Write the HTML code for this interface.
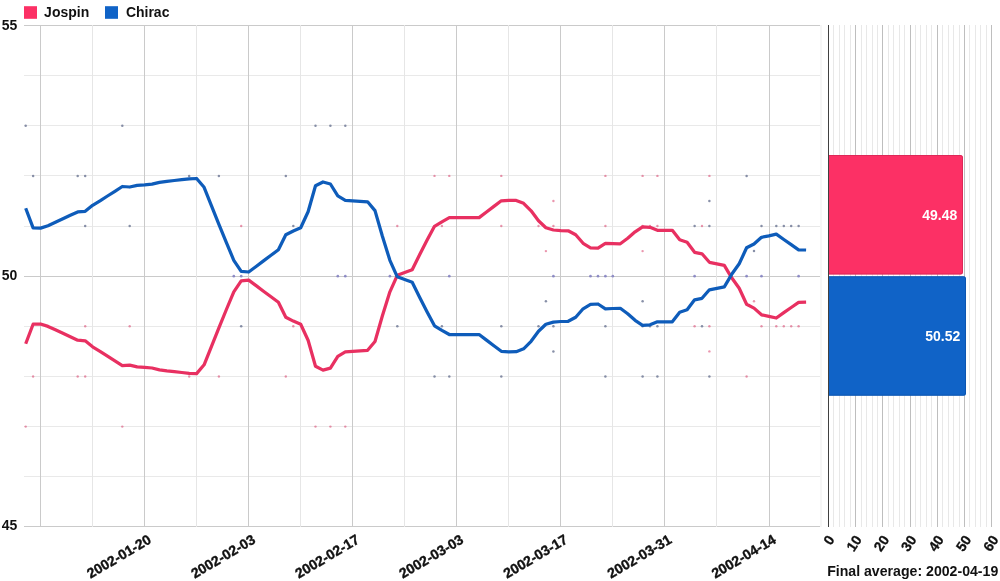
<!DOCTYPE html>
<html><head><meta charset="utf-8"><title>Jospin vs Chirac</title>
<style>
html,body{margin:0;padding:0;background:#fff;}
body{width:1000px;height:581px;overflow:hidden;font-family:"Liberation Sans",sans-serif;}
svg{display:block;will-change:transform;opacity:0.999;}
text{font-family:"Liberation Sans",sans-serif;font-weight:bold;fill:#111;}
</style></head><body>
<svg width="1000" height="581" viewBox="0 0 1000 581">
<rect width="1000" height="581" fill="#fff"/>

<rect x="24" y="6.2" width="13" height="12.6" fill="#fc3065"/>
<text transform="translate(44.1,16.9) scale(1,1.1)" font-size="14">Jospin</text>
<rect x="105" y="6.2" width="13" height="12.6" fill="#1063c7"/>
<text transform="translate(125.9,16.9) scale(1,1.1)" font-size="14">Chirac</text>
<g shape-rendering="crispEdges">
<line x1="24" x2="822" y1="25.5" y2="25.5" stroke="#cacaca" stroke-width="1"/>
<line x1="24" x2="822" y1="75.5" y2="75.5" stroke="#e9e9e9" stroke-width="1"/>
<line x1="24" x2="822" y1="125.5" y2="125.5" stroke="#e9e9e9" stroke-width="1"/>
<line x1="24" x2="822" y1="175.5" y2="175.5" stroke="#e9e9e9" stroke-width="1"/>
<line x1="24" x2="822" y1="226" y2="226" stroke="#e9e9e9" stroke-width="1"/>
<line x1="24" x2="822" y1="276.5" y2="276.5" stroke="#cacaca" stroke-width="1"/>
<line x1="24" x2="822" y1="326.5" y2="326.5" stroke="#e9e9e9" stroke-width="1"/>
<line x1="24" x2="822" y1="376.5" y2="376.5" stroke="#e9e9e9" stroke-width="1"/>
<line x1="24" x2="822" y1="426.5" y2="426.5" stroke="#e9e9e9" stroke-width="1"/>
<line x1="24" x2="822" y1="476.5" y2="476.5" stroke="#e9e9e9" stroke-width="1"/>
<line x1="24" x2="822" y1="526.5" y2="526.5" stroke="#cacaca" stroke-width="1"/>
<line x1="40.5" x2="40.5" y1="25" y2="527" stroke="#cacaca" stroke-width="1"/>
<line x1="92.5" x2="92.5" y1="25" y2="527" stroke="#e6e6e6" stroke-width="1"/>
<line x1="144.5" x2="144.5" y1="25" y2="527" stroke="#cacaca" stroke-width="1"/>
<line x1="196.5" x2="196.5" y1="25" y2="527" stroke="#e6e6e6" stroke-width="1"/>
<line x1="248.5" x2="248.5" y1="25" y2="527" stroke="#cacaca" stroke-width="1"/>
<line x1="300.5" x2="300.5" y1="25" y2="527" stroke="#e6e6e6" stroke-width="1"/>
<line x1="352.5" x2="352.5" y1="25" y2="527" stroke="#cacaca" stroke-width="1"/>
<line x1="404.5" x2="404.5" y1="25" y2="527" stroke="#e6e6e6" stroke-width="1"/>
<line x1="456.5" x2="456.5" y1="25" y2="527" stroke="#cacaca" stroke-width="1"/>
<line x1="508.5" x2="508.5" y1="25" y2="527" stroke="#e6e6e6" stroke-width="1"/>
<line x1="560.5" x2="560.5" y1="25" y2="527" stroke="#cacaca" stroke-width="1"/>
<line x1="612.5" x2="612.5" y1="25" y2="527" stroke="#e6e6e6" stroke-width="1"/>
<line x1="664.5" x2="664.5" y1="25" y2="527" stroke="#cacaca" stroke-width="1"/>
<line x1="716.5" x2="716.5" y1="25" y2="527" stroke="#e6e6e6" stroke-width="1"/>
<line x1="769.5" x2="769.5" y1="25" y2="527" stroke="#cacaca" stroke-width="1"/>
</g>
<text transform="translate(1.8,30) scale(1,1.1)" font-size="14">55</text>
<text transform="translate(1.8,280) scale(1,1.1)" font-size="14">50</text>
<text transform="translate(1.8,530) scale(1,1.1)" font-size="14">45</text>
<text transform="translate(150.4,539.2) rotate(-30.5)" text-anchor="end" dominant-baseline="middle" font-size="14" stroke="#111" stroke-width="0.35">2002-01-20</text>
<text transform="translate(254.5,539.2) rotate(-30.5)" text-anchor="end" dominant-baseline="middle" font-size="14" stroke="#111" stroke-width="0.35">2002-02-03</text>
<text transform="translate(358.6,539.2) rotate(-30.5)" text-anchor="end" dominant-baseline="middle" font-size="14" stroke="#111" stroke-width="0.35">2002-02-17</text>
<text transform="translate(462.7,539.2) rotate(-30.5)" text-anchor="end" dominant-baseline="middle" font-size="14" stroke="#111" stroke-width="0.35">2002-03-03</text>
<text transform="translate(566.8,539.2) rotate(-30.5)" text-anchor="end" dominant-baseline="middle" font-size="14" stroke="#111" stroke-width="0.35">2002-03-17</text>
<text transform="translate(670.9,539.2) rotate(-30.5)" text-anchor="end" dominant-baseline="middle" font-size="14" stroke="#111" stroke-width="0.35">2002-03-31</text>
<text transform="translate(775.0,539.2) rotate(-30.5)" text-anchor="end" dominant-baseline="middle" font-size="14" stroke="#111" stroke-width="0.35">2002-04-14</text>
<g>
<circle cx="25.7" cy="426.6" r="1.2" fill="#d8406c" fill-opacity="0.55"/>
<circle cx="33.1" cy="376.5" r="1.2" fill="#d8406c" fill-opacity="0.55"/>
<circle cx="77.7" cy="376.5" r="1.2" fill="#d8406c" fill-opacity="0.55"/>
<circle cx="85.2" cy="376.5" r="1.2" fill="#d8406c" fill-opacity="0.55"/>
<circle cx="85.2" cy="326.3" r="1.2" fill="#d8406c" fill-opacity="0.55"/>
<circle cx="122.3" cy="426.6" r="1.2" fill="#d8406c" fill-opacity="0.55"/>
<circle cx="129.7" cy="326.3" r="1.2" fill="#d8406c" fill-opacity="0.55"/>
<circle cx="189.2" cy="376.5" r="1.2" fill="#d8406c" fill-opacity="0.55"/>
<circle cx="218.9" cy="376.5" r="1.2" fill="#d8406c" fill-opacity="0.55"/>
<circle cx="241.2" cy="226.0" r="1.2" fill="#d8406c" fill-opacity="0.55"/>
<circle cx="285.8" cy="376.5" r="1.2" fill="#d8406c" fill-opacity="0.55"/>
<circle cx="293.3" cy="326.3" r="1.2" fill="#d8406c" fill-opacity="0.55"/>
<circle cx="315.5" cy="426.6" r="1.2" fill="#d8406c" fill-opacity="0.55"/>
<circle cx="330.4" cy="426.6" r="1.2" fill="#d8406c" fill-opacity="0.55"/>
<circle cx="345.3" cy="426.6" r="1.2" fill="#d8406c" fill-opacity="0.55"/>
<circle cx="397.3" cy="226.0" r="1.2" fill="#d8406c" fill-opacity="0.55"/>
<circle cx="434.5" cy="175.9" r="1.2" fill="#d8406c" fill-opacity="0.55"/>
<circle cx="441.9" cy="226.0" r="1.2" fill="#d8406c" fill-opacity="0.55"/>
<circle cx="449.3" cy="175.9" r="1.2" fill="#d8406c" fill-opacity="0.55"/>
<circle cx="501.3" cy="175.9" r="1.2" fill="#d8406c" fill-opacity="0.55"/>
<circle cx="501.3" cy="226.0" r="1.2" fill="#d8406c" fill-opacity="0.55"/>
<circle cx="538.5" cy="226.0" r="1.2" fill="#d8406c" fill-opacity="0.55"/>
<circle cx="545.9" cy="251.1" r="1.2" fill="#d8406c" fill-opacity="0.55"/>
<circle cx="553.4" cy="201.0" r="1.2" fill="#d8406c" fill-opacity="0.55"/>
<circle cx="553.4" cy="226.0" r="1.2" fill="#d8406c" fill-opacity="0.55"/>
<circle cx="605.4" cy="175.9" r="1.2" fill="#d8406c" fill-opacity="0.55"/>
<circle cx="605.4" cy="226.0" r="1.2" fill="#d8406c" fill-opacity="0.55"/>
<circle cx="642.6" cy="175.9" r="1.2" fill="#d8406c" fill-opacity="0.55"/>
<circle cx="642.6" cy="226.0" r="1.2" fill="#d8406c" fill-opacity="0.55"/>
<circle cx="642.6" cy="251.1" r="1.2" fill="#d8406c" fill-opacity="0.55"/>
<circle cx="650.0" cy="226.0" r="1.2" fill="#d8406c" fill-opacity="0.55"/>
<circle cx="657.4" cy="175.9" r="1.2" fill="#d8406c" fill-opacity="0.55"/>
<circle cx="657.4" cy="226.0" r="1.2" fill="#d8406c" fill-opacity="0.55"/>
<circle cx="694.6" cy="326.3" r="1.2" fill="#d8406c" fill-opacity="0.55"/>
<circle cx="702.0" cy="226.0" r="1.2" fill="#d8406c" fill-opacity="0.55"/>
<circle cx="709.4" cy="175.9" r="1.2" fill="#d8406c" fill-opacity="0.55"/>
<circle cx="709.4" cy="326.3" r="1.2" fill="#d8406c" fill-opacity="0.55"/>
<circle cx="709.4" cy="351.4" r="1.2" fill="#d8406c" fill-opacity="0.55"/>
<circle cx="746.6" cy="376.5" r="1.2" fill="#d8406c" fill-opacity="0.55"/>
<circle cx="754.0" cy="301.3" r="1.2" fill="#d8406c" fill-opacity="0.55"/>
<circle cx="761.5" cy="326.3" r="1.2" fill="#d8406c" fill-opacity="0.55"/>
<circle cx="776.3" cy="326.3" r="1.2" fill="#d8406c" fill-opacity="0.55"/>
<circle cx="783.8" cy="326.3" r="1.2" fill="#d8406c" fill-opacity="0.55"/>
<circle cx="791.2" cy="326.3" r="1.2" fill="#d8406c" fill-opacity="0.55"/>
<circle cx="798.6" cy="326.3" r="1.2" fill="#d8406c" fill-opacity="0.55"/>
<circle cx="25.7" cy="125.8" r="1.25" fill="#6a7492" fill-opacity="0.8"/>
<circle cx="33.1" cy="175.9" r="1.25" fill="#6a7492" fill-opacity="0.8"/>
<circle cx="77.7" cy="175.9" r="1.25" fill="#6a7492" fill-opacity="0.8"/>
<circle cx="85.2" cy="175.9" r="1.25" fill="#6a7492" fill-opacity="0.8"/>
<circle cx="85.2" cy="226.0" r="1.25" fill="#6a7492" fill-opacity="0.8"/>
<circle cx="122.3" cy="125.8" r="1.25" fill="#6a7492" fill-opacity="0.8"/>
<circle cx="129.7" cy="226.0" r="1.25" fill="#6a7492" fill-opacity="0.8"/>
<circle cx="189.2" cy="175.9" r="1.25" fill="#6a7492" fill-opacity="0.8"/>
<circle cx="218.9" cy="175.9" r="1.25" fill="#6a7492" fill-opacity="0.8"/>
<circle cx="233.8" cy="276.2" r="1.35" fill="#7f7cc0" fill-opacity="0.85"/>
<circle cx="241.2" cy="276.2" r="1.35" fill="#7f7cc0" fill-opacity="0.85"/>
<circle cx="241.2" cy="326.3" r="1.25" fill="#6a7492" fill-opacity="0.8"/>
<circle cx="285.8" cy="175.9" r="1.25" fill="#6a7492" fill-opacity="0.8"/>
<circle cx="293.3" cy="226.0" r="1.25" fill="#6a7492" fill-opacity="0.8"/>
<circle cx="315.5" cy="125.8" r="1.25" fill="#6a7492" fill-opacity="0.8"/>
<circle cx="330.4" cy="125.8" r="1.25" fill="#6a7492" fill-opacity="0.8"/>
<circle cx="337.8" cy="276.2" r="1.35" fill="#7f7cc0" fill-opacity="0.85"/>
<circle cx="345.3" cy="125.8" r="1.25" fill="#6a7492" fill-opacity="0.8"/>
<circle cx="345.3" cy="276.2" r="1.35" fill="#7f7cc0" fill-opacity="0.85"/>
<circle cx="389.9" cy="276.2" r="1.35" fill="#7f7cc0" fill-opacity="0.85"/>
<circle cx="397.3" cy="326.3" r="1.25" fill="#6a7492" fill-opacity="0.8"/>
<circle cx="434.5" cy="376.5" r="1.25" fill="#6a7492" fill-opacity="0.8"/>
<circle cx="441.9" cy="326.3" r="1.25" fill="#6a7492" fill-opacity="0.8"/>
<circle cx="449.3" cy="376.5" r="1.25" fill="#6a7492" fill-opacity="0.8"/>
<circle cx="449.3" cy="276.2" r="1.35" fill="#7f7cc0" fill-opacity="0.85"/>
<circle cx="501.3" cy="376.5" r="1.25" fill="#6a7492" fill-opacity="0.8"/>
<circle cx="501.3" cy="326.3" r="1.25" fill="#6a7492" fill-opacity="0.8"/>
<circle cx="538.5" cy="326.3" r="1.25" fill="#6a7492" fill-opacity="0.8"/>
<circle cx="545.9" cy="301.3" r="1.25" fill="#6a7492" fill-opacity="0.8"/>
<circle cx="553.4" cy="351.4" r="1.25" fill="#6a7492" fill-opacity="0.8"/>
<circle cx="553.4" cy="326.3" r="1.25" fill="#6a7492" fill-opacity="0.8"/>
<circle cx="553.4" cy="276.2" r="1.35" fill="#7f7cc0" fill-opacity="0.85"/>
<circle cx="590.5" cy="276.2" r="1.35" fill="#7f7cc0" fill-opacity="0.85"/>
<circle cx="598.0" cy="276.2" r="1.35" fill="#7f7cc0" fill-opacity="0.85"/>
<circle cx="605.4" cy="376.5" r="1.25" fill="#6a7492" fill-opacity="0.8"/>
<circle cx="605.4" cy="326.3" r="1.25" fill="#6a7492" fill-opacity="0.8"/>
<circle cx="605.4" cy="276.2" r="1.35" fill="#7f7cc0" fill-opacity="0.85"/>
<circle cx="612.8" cy="276.2" r="1.35" fill="#7f7cc0" fill-opacity="0.85"/>
<circle cx="642.6" cy="376.5" r="1.25" fill="#6a7492" fill-opacity="0.8"/>
<circle cx="642.6" cy="326.3" r="1.25" fill="#6a7492" fill-opacity="0.8"/>
<circle cx="642.6" cy="301.3" r="1.25" fill="#6a7492" fill-opacity="0.8"/>
<circle cx="650.0" cy="326.3" r="1.25" fill="#6a7492" fill-opacity="0.8"/>
<circle cx="657.4" cy="376.5" r="1.25" fill="#6a7492" fill-opacity="0.8"/>
<circle cx="657.4" cy="326.3" r="1.25" fill="#6a7492" fill-opacity="0.8"/>
<circle cx="694.6" cy="226.0" r="1.25" fill="#6a7492" fill-opacity="0.8"/>
<circle cx="694.6" cy="276.2" r="1.35" fill="#7f7cc0" fill-opacity="0.85"/>
<circle cx="702.0" cy="326.3" r="1.25" fill="#6a7492" fill-opacity="0.8"/>
<circle cx="709.4" cy="376.5" r="1.25" fill="#6a7492" fill-opacity="0.8"/>
<circle cx="709.4" cy="226.0" r="1.25" fill="#6a7492" fill-opacity="0.8"/>
<circle cx="709.4" cy="201.0" r="1.25" fill="#6a7492" fill-opacity="0.8"/>
<circle cx="746.6" cy="175.9" r="1.25" fill="#6a7492" fill-opacity="0.8"/>
<circle cx="746.6" cy="276.2" r="1.35" fill="#7f7cc0" fill-opacity="0.85"/>
<circle cx="754.0" cy="251.1" r="1.25" fill="#6a7492" fill-opacity="0.8"/>
<circle cx="761.5" cy="226.0" r="1.25" fill="#6a7492" fill-opacity="0.8"/>
<circle cx="761.5" cy="276.2" r="1.35" fill="#7f7cc0" fill-opacity="0.85"/>
<circle cx="776.3" cy="226.0" r="1.25" fill="#6a7492" fill-opacity="0.8"/>
<circle cx="783.8" cy="226.0" r="1.25" fill="#6a7492" fill-opacity="0.8"/>
<circle cx="791.2" cy="226.0" r="1.25" fill="#6a7492" fill-opacity="0.8"/>
<circle cx="798.6" cy="226.0" r="1.25" fill="#6a7492" fill-opacity="0.8"/>
<circle cx="798.6" cy="276.2" r="1.35" fill="#7f7cc0" fill-opacity="0.85"/>
</g>
<path d="M25.7,343.8 L33.1,324.2 L40.6,324.0 L48.0,326.4 L55.4,329.8 L62.9,333.3 L70.3,336.8 L77.7,340.2 L85.2,340.8 L92.6,346.8 L100.0,351.3 L107.5,356.1 L114.9,360.8 L122.3,365.6 L129.7,365.1 L137.2,366.8 L144.6,367.3 L152.0,368.0 L159.5,369.8 L166.9,370.8 L174.3,371.6 L181.8,372.5 L189.2,373.3 L196.6,373.6 L204.1,364.8 L211.5,346.3 L218.9,327.8 L226.4,309.5 L233.8,291.8 L241.2,280.8 L248.7,280.1 L256.1,285.6 L263.5,291.2 L271.0,296.8 L278.4,302.3 L285.8,317.3 L293.3,321.1 L300.7,324.3 L308.1,340.3 L315.5,366.3 L323.0,370.1 L330.4,368.1 L337.8,356.3 L345.3,351.8 L352.7,351.3 L360.1,350.8 L367.6,350.3 L375.0,341.5 L382.4,315.8 L389.9,291.8 L397.3,275.3 L404.7,272.5 L412.2,269.8 L419.6,254.8 L427.0,240.3 L434.5,226.3 L441.9,221.8 L449.3,217.6 L456.8,217.6 L464.2,217.6 L471.6,217.6 L479.1,217.6 L486.5,212.0 L493.9,206.4 L501.3,200.8 L508.8,200.3 L516.2,200.4 L523.6,203.3 L531.1,210.8 L538.5,220.8 L545.9,227.8 L553.4,230.0 L560.8,230.6 L568.2,230.8 L575.7,234.8 L583.1,243.3 L590.5,247.8 L598.0,248.1 L605.4,243.3 L612.8,243.6 L620.3,243.8 L627.7,238.3 L635.1,231.8 L642.6,226.8 L650.0,227.3 L657.4,230.3 L664.9,230.3 L672.3,230.3 L679.7,239.8 L687.1,242.3 L694.6,252.3 L702.0,253.8 L709.4,262.3 L716.9,263.8 L724.3,265.3 L731.7,277.8 L739.2,288.3 L746.6,304.3 L754.0,308.1 L761.5,314.8 L768.9,316.3 L776.3,318.0 L783.8,312.6 L791.2,307.5 L798.6,302.3 L806.1,302.1" fill="none" stroke="#e83061" stroke-width="3.25" stroke-linejoin="round"/>
<path d="M25.7,208.3 L33.1,227.9 L40.6,228.1 L48.0,225.7 L55.4,222.3 L62.9,218.8 L70.3,215.3 L77.7,211.9 L85.2,211.3 L92.6,205.3 L100.0,200.8 L107.5,196.0 L114.9,191.3 L122.3,186.5 L129.7,187.0 L137.2,185.3 L144.6,184.8 L152.0,184.1 L159.5,182.3 L166.9,181.3 L174.3,180.5 L181.8,179.6 L189.2,178.8 L196.6,178.5 L204.1,187.3 L211.5,205.8 L218.9,224.3 L226.4,242.6 L233.8,260.3 L241.2,271.3 L248.7,272.0 L256.1,266.5 L263.5,260.9 L271.0,255.3 L278.4,249.8 L285.8,234.8 L293.3,231.0 L300.7,227.8 L308.1,211.8 L315.5,185.8 L323.0,182.0 L330.4,184.0 L337.8,195.8 L345.3,200.3 L352.7,200.8 L360.1,201.3 L367.6,201.8 L375.0,210.6 L382.4,236.3 L389.9,260.3 L397.3,276.8 L404.7,279.6 L412.2,282.3 L419.6,297.3 L427.0,311.8 L434.5,325.8 L441.9,330.3 L449.3,334.5 L456.8,334.5 L464.2,334.5 L471.6,334.5 L479.1,334.5 L486.5,340.1 L493.9,345.7 L501.3,351.3 L508.8,351.8 L516.2,351.7 L523.6,348.8 L531.1,341.3 L538.5,331.3 L545.9,324.3 L553.4,322.1 L560.8,321.5 L568.2,321.3 L575.7,317.3 L583.1,308.8 L590.5,304.3 L598.0,304.0 L605.4,308.8 L612.8,308.5 L620.3,308.3 L627.7,313.8 L635.1,320.3 L642.6,325.3 L650.0,324.8 L657.4,321.8 L664.9,321.8 L672.3,321.8 L679.7,312.3 L687.1,309.8 L694.6,299.8 L702.0,298.3 L709.4,289.8 L716.9,288.3 L724.3,286.8 L731.7,274.3 L739.2,263.8 L746.6,247.8 L754.0,244.0 L761.5,237.3 L768.9,235.8 L776.3,234.1 L783.8,239.5 L791.2,244.6 L798.6,249.8 L806.1,250.0" fill="none" stroke="#0e5cba" stroke-width="3.25" stroke-linejoin="round"/>
<g shape-rendering="crispEdges">
<line x1="833.5" x2="833.5" y1="25" y2="527" stroke="#e8e8e8" stroke-width="1"/>
<line x1="839.5" x2="839.5" y1="25" y2="527" stroke="#e8e8e8" stroke-width="1"/>
<line x1="844.5" x2="844.5" y1="25" y2="527" stroke="#e8e8e8" stroke-width="1"/>
<line x1="850.5" x2="850.5" y1="25" y2="527" stroke="#e8e8e8" stroke-width="1"/>
<line x1="855.5" x2="855.5" y1="25" y2="527" stroke="#bebebe" stroke-width="1"/>
<line x1="861.5" x2="861.5" y1="25" y2="527" stroke="#e8e8e8" stroke-width="1"/>
<line x1="866.5" x2="866.5" y1="25" y2="527" stroke="#e8e8e8" stroke-width="1"/>
<line x1="872.5" x2="872.5" y1="25" y2="527" stroke="#e8e8e8" stroke-width="1"/>
<line x1="877.5" x2="877.5" y1="25" y2="527" stroke="#e8e8e8" stroke-width="1"/>
<line x1="882.5" x2="882.5" y1="25" y2="527" stroke="#bebebe" stroke-width="1"/>
<line x1="888.5" x2="888.5" y1="25" y2="527" stroke="#e8e8e8" stroke-width="1"/>
<line x1="893.5" x2="893.5" y1="25" y2="527" stroke="#e8e8e8" stroke-width="1"/>
<line x1="899.5" x2="899.5" y1="25" y2="527" stroke="#e8e8e8" stroke-width="1"/>
<line x1="904.5" x2="904.5" y1="25" y2="527" stroke="#e8e8e8" stroke-width="1"/>
<line x1="910.5" x2="910.5" y1="25" y2="527" stroke="#bebebe" stroke-width="1"/>
<line x1="915.5" x2="915.5" y1="25" y2="527" stroke="#e8e8e8" stroke-width="1"/>
<line x1="920.5" x2="920.5" y1="25" y2="527" stroke="#e8e8e8" stroke-width="1"/>
<line x1="926.5" x2="926.5" y1="25" y2="527" stroke="#e8e8e8" stroke-width="1"/>
<line x1="931.5" x2="931.5" y1="25" y2="527" stroke="#e8e8e8" stroke-width="1"/>
<line x1="937.5" x2="937.5" y1="25" y2="527" stroke="#bebebe" stroke-width="1"/>
<line x1="942.5" x2="942.5" y1="25" y2="527" stroke="#e8e8e8" stroke-width="1"/>
<line x1="948.5" x2="948.5" y1="25" y2="527" stroke="#e8e8e8" stroke-width="1"/>
<line x1="953.5" x2="953.5" y1="25" y2="527" stroke="#e8e8e8" stroke-width="1"/>
<line x1="959.5" x2="959.5" y1="25" y2="527" stroke="#e8e8e8" stroke-width="1"/>
<line x1="964.5" x2="964.5" y1="25" y2="527" stroke="#bebebe" stroke-width="1"/>
<line x1="969.5" x2="969.5" y1="25" y2="527" stroke="#e8e8e8" stroke-width="1"/>
<line x1="975.5" x2="975.5" y1="25" y2="527" stroke="#e8e8e8" stroke-width="1"/>
<line x1="980.5" x2="980.5" y1="25" y2="527" stroke="#e8e8e8" stroke-width="1"/>
<line x1="986.5" x2="986.5" y1="25" y2="527" stroke="#e8e8e8" stroke-width="1"/>
<line x1="991.5" x2="991.5" y1="25" y2="527" stroke="#bebebe" stroke-width="1"/>
<line x1="828.5" x2="828.5" y1="25" y2="527" stroke="#404040" stroke-width="1"/>
<line x1="821" x2="821" y1="25" y2="527" stroke="#f6f6f6" stroke-width="2"/>
</g>
<path d="M829,155 H960.5 Q963,155 963,157.5 V272.0 Q963,274.5 960.5,274.5 H829 Z" fill="#fc3065"/><path d="M829,155.5 H960.5 Q962.5,155.5 962.5,157.5 V272.0 Q962.5,274.0 960.5,274.0 H829" fill="none" stroke="#c4234f" stroke-opacity="0.55" stroke-width="1"/>
<path d="M829,276.2 H963.5 Q966,276.2 966,278.7 V393.2 Q966,395.7 963.5,395.7 H829 Z" fill="#1063c7"/><path d="M829,276.7 H963.5 Q965.5,276.7 965.5,278.7 V393.2 Q965.5,395.2 963.5,395.2 H829" fill="none" stroke="#0a4a9c" stroke-opacity="0.55" stroke-width="1"/>
<text transform="translate(957.2,219.7) scale(1,1.1)" font-size="14" text-anchor="end" style="fill:#fff">49.48</text>
<text transform="translate(960.2,341) scale(1,1.1)" font-size="14" text-anchor="end" style="fill:#fff">50.52</text>
<text transform="translate(832.0,537.5) rotate(-56)" text-anchor="end" dominant-baseline="middle" font-size="14" stroke="#111" stroke-width="0.3">0</text>
<text transform="translate(859.4,537.5) rotate(-56)" text-anchor="end" dominant-baseline="middle" font-size="14" stroke="#111" stroke-width="0.3">10</text>
<text transform="translate(886.7,537.5) rotate(-56)" text-anchor="end" dominant-baseline="middle" font-size="14" stroke="#111" stroke-width="0.3">20</text>
<text transform="translate(914.0,537.5) rotate(-56)" text-anchor="end" dominant-baseline="middle" font-size="14" stroke="#111" stroke-width="0.3">30</text>
<text transform="translate(941.4,537.5) rotate(-56)" text-anchor="end" dominant-baseline="middle" font-size="14" stroke="#111" stroke-width="0.3">40</text>
<text transform="translate(968.8,537.5) rotate(-56)" text-anchor="end" dominant-baseline="middle" font-size="14" stroke="#111" stroke-width="0.3">50</text>
<text transform="translate(996.1,537.5) rotate(-56)" text-anchor="end" dominant-baseline="middle" font-size="14" stroke="#111" stroke-width="0.3">60</text>
<text transform="translate(912.7,575.8) scale(1.01,1.1)" font-size="14" text-anchor="middle">Final average: 2002-04-19</text>
</svg></body></html>
